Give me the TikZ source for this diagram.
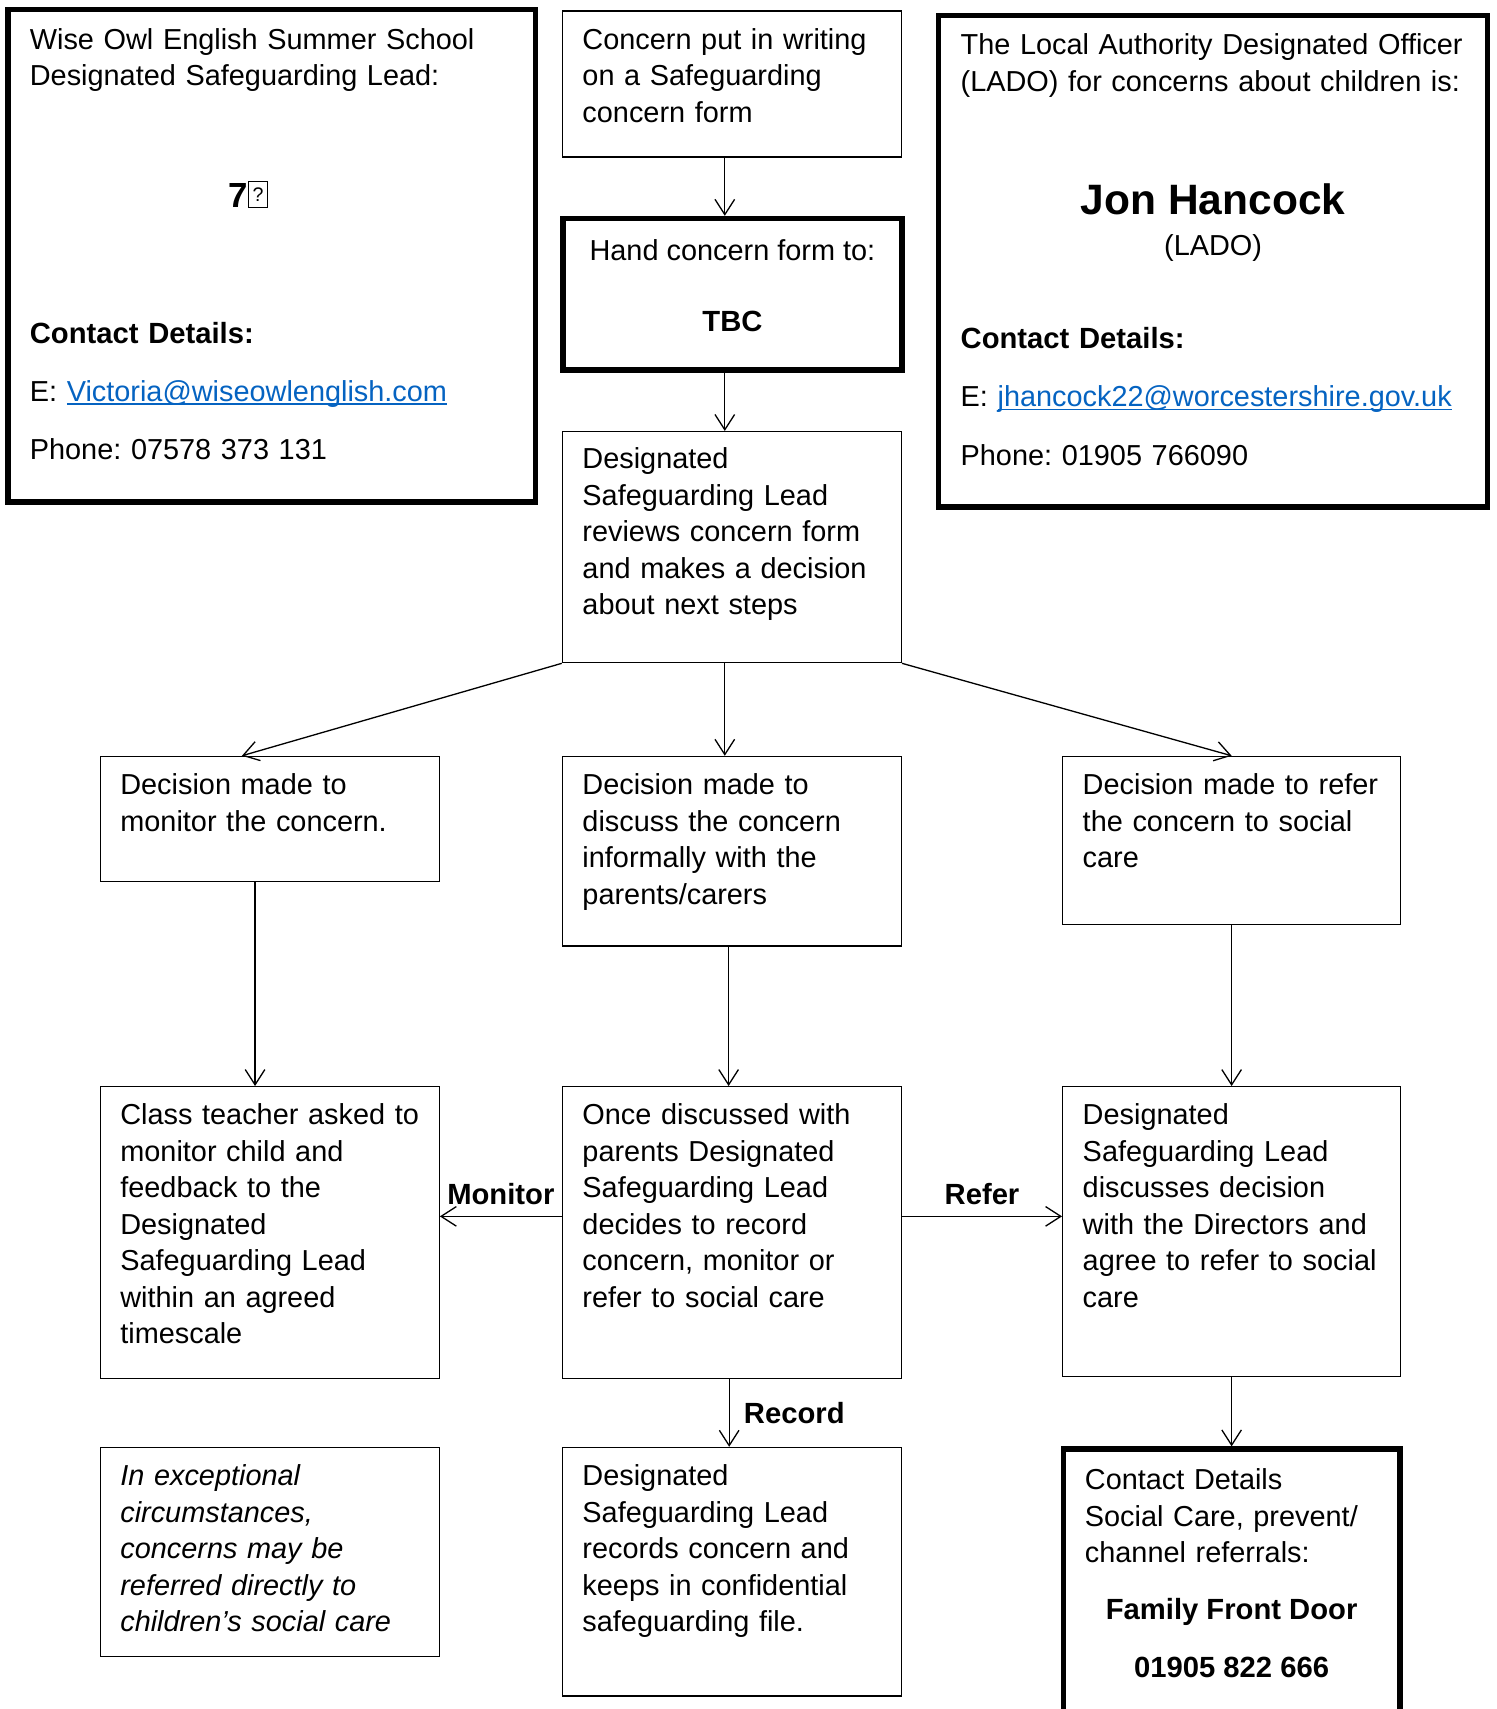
\documentclass[tikz,border=0pt]{standalone}
\usepackage{fontspec}
\setmainfont{Liberation Sans}
\usetikzlibrary{arrows.meta,fit}
\frenchspacing
\definecolor{linkblue}{RGB}{5,99,193}
\newcommand{\bodyfont}{\fontsize{13.25}{16.75}\selectfont}
\newcommand{\labelfont}{\fontsize{13.4}{16.75}\selectfont\bfseries}
\newcommand{\missingglyph}{{\setlength{\fboxsep}{0pt}\setlength{\fboxrule}{0.5pt}\fbox{\parbox[b][11.5pt][c]{8pt}{\centering\fontsize{9}{9}\selectfont\mdseries ?}}}}
\newsavebox{\linkbox}
\newcommand{\weblink}[1]{\sbox{\linkbox}{\color{linkblue}#1}{\color{linkblue}\usebox{\linkbox}\llap{\rule[-1.6pt]{\wd\linkbox}{0.7pt}}}}

\begin{document}
\begin{tikzpicture}[x=0.5pt, y=-0.5pt,
        box/.style={draw, line width=0.6pt, inner sep=0pt},
        boxThick/.style={draw, line width=2.5pt, inner sep=0pt},
        txt/.style={anchor=base west, inner sep=0pt, text width=250pt, align=left, font=\bodyfont},
        txtMid/.style={anchor=base, inner sep=0pt, font=\bodyfont},
        lbl/.style={inner sep=0pt, font=\labelfont},
        arr/.style={line width=0.6pt, -{Straight Barb[length=7pt, width=9pt, line width=0.6pt]}}]

        \clip (0,0) rectangle (1373,1568);

        % top row
        \node[boxThick, fit={(7.5,8.5) (491.5,460.5)}] (lead) {};
        \node[txt] (leadT) at (27,45) {Wise Owl English Summer School\\Designated Safeguarding Lead:};
        \node[txtMid, font=\fontsize{16}{18}\selectfont\bfseries] (leadName) at (228,190) {7\missingglyph};
        \node[txt, font=\labelfont] (leadC) at (27,315) {Contact Details:};
        \node[txt] (leadE) at (27,368) {E: \weblink{Victoria@wiseowlenglish.com}};
        \node[txt] (leadP) at (27,422) {Phone: 07578 373 131};

        \node[box, fit={(516,10) (827,144)}] (concern) {};
        \node[txt] (concernT) at (534,45) {Concern put in writing\\on a Safeguarding\\concern form};

        \node[boxThick, fit={(516.5,200.5) (827.5,339.5)}] (hand) {};
        \node[txtMid] (handT) at (672,239) {Hand concern form to:};
        \node[txtMid, font=\labelfont] (handName) at (672,304) {TBC};

        \node[boxThick, fit={(861,14) (1365,465)}] (lado) {};
        \node[txt] (ladoT) at (881,50) {The Local Authority Designated Officer\\(LADO) for concerns about children is:};
        \node[txtMid, font=\fontsize{19.5}{22}\selectfont\bfseries] (ladoName) at (1113,197) {Jon Hancock};
        \node[txtMid] (ladoRole) at (1113,234) {(LADO)};
        \node[txt, font=\labelfont] (ladoC) at (881,320) {Contact Details:};
        \node[txt] (ladoE) at (881,373) {E: \weblink{jhancock22@worcestershire.gov.uk}};
        \node[txt] (ladoP) at (881,427) {Phone: 01905 766090};

        \node[box, fit={(516,396) (827,608)}] (review) {};
        \node[txt] (reviewT) at (534,430) {Designated\\Safeguarding Lead\\reviews concern form\\and makes a decision\\about next steps};

        % decisions
        \node[box, fit={(92,694) (403,809)}] (monitor) {};
        \node[txt] (monitorT) at (110,729) {Decision made to\\monitor the concern.};

        \node[box, fit={(516,694) (827,868)}] (discuss) {};
        \node[txt] (discussT) at (534,729) {Decision made to\\discuss the concern\\informally with the\\parents/carers};

        \node[box, fit={(975,694) (1285,848)}] (refer) {};
        \node[txt] (referT) at (993,729) {Decision made to refer\\the concern to social\\care};

        % actions
        \node[box, fit={(92,997) (403,1265)}] (teacher) {};
        \node[txt] (teacherT) at (110,1032) {Class teacher asked to\\monitor child and\\feedback to the\\Designated\\Safeguarding Lead\\within an agreed\\timescale};

        \node[box, fit={(516,997) (827,1265)}] (once) {};
        \node[txt] (onceT) at (534,1032) {Once discussed with\\parents Designated\\Safeguarding Lead\\decides to record\\concern, monitor or\\refer to social care};

        \node[box, fit={(975,997) (1285,1263)}] (directors) {};
        \node[txt] (directorsT) at (993,1032) {Designated\\Safeguarding Lead\\discusses decision\\with the Directors and\\agree to refer to social\\care};

        % bottom row
        \node[box, fit={(92,1328) (403,1520)}] (except) {};
        \node[txt, font=\bodyfont\itshape] (exceptT) at (110,1363) {In exceptional\\circumstances,\\concerns may be\\referred directly to\\children’s social care};

        \node[box, fit={(516,1328) (827,1556)}] (records) {};
        \node[txt] (recordsT) at (534,1363) {Designated\\Safeguarding Lead\\records concern and\\keeps in confidential\\safeguarding file.};

        \node[boxThick, fit={(975.5,1329.5) (1284.5,1620)}] (ffd) {};
        \node[txt] (ffdT) at (995,1367) {Contact Details\\Social Care, prevent/\\channel referrals:};
        \node[txtMid, font=\labelfont] (ffdName) at (1130,1486) {Family Front Door};
        \node[txtMid, font=\labelfont] (ffdP) at (1130,1539) {01905 822 666};

        % arrows
        \draw[arr] ([xshift=-3.25pt]concern.south) -- ([xshift=-3.25pt]concern.south |- hand.north);
        \draw[arr] ([xshift=-3.5pt]hand.south) -- ([xshift=-3.5pt]hand.south |- review.north);
        \draw[arr] (review.south west) -- ([xshift=-12.75pt]monitor.north);
        \draw[arr] ([xshift=-3.25pt]review.south) -- ([xshift=-3.25pt]discuss.north);
        \draw[arr] (review.south east) -- (refer.north);
        \draw[arr] ([xshift=-6.75pt]monitor.south) -- ([xshift=-6.75pt]teacher.north);
        \draw[arr] ([xshift=-1.5pt]discuss.south) -- ([xshift=-1.5pt]once.north);
        \draw[arr] (refer.south) -- (directors.north);
        \draw[arr] ([yshift=7.5pt]once.west) -- ([yshift=7.5pt]teacher.east) node[lbl, midway, above=5pt] {Monitor};
        \draw[arr] ([yshift=7.5pt]once.east) -- ([yshift=7.5pt]once.east -| directors.west) node[lbl, midway, above=5pt] {Refer};
        \draw[arr] ([xshift=-1.25pt]once.south) -- ([xshift=-1.25pt]records.north) node[lbl, midway, right=6.5pt] {Record};
        \draw[arr] (directors.south) -- (directors.south |- ffd.north);
    \end{tikzpicture}
\end{document}
